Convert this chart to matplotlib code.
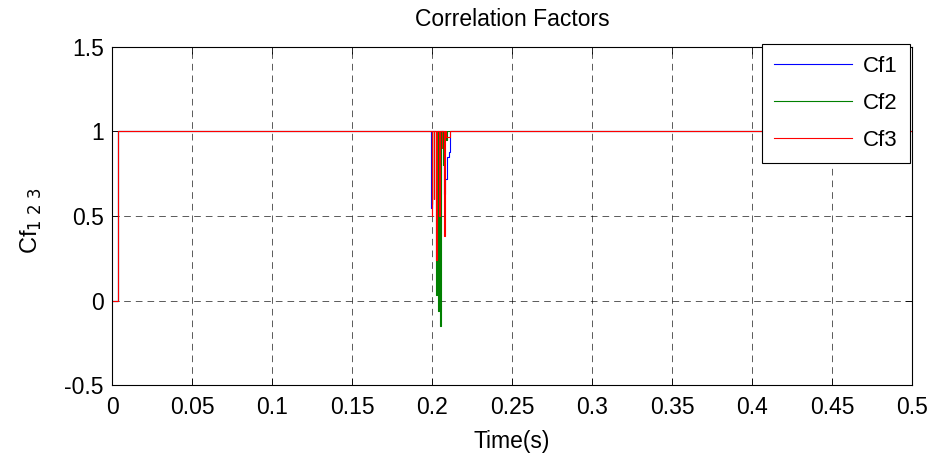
import matplotlib
matplotlib.use('Agg')
import matplotlib.pyplot as plt

plt.rcParams['font.family'] = ['Liberation Sans', 'DejaVu Sans']

# step data (time in s, correlation factor)
cf1_t = [0, 0.0036, 0.1994, 0.1999, 0.2003, 0.2078, 0.2084, 0.2092, 0.2106, 0.2112, 0.5]
cf1_v = [0, 1, 0.55, 0.75, 1, 0.63, 0.72, 0.85, 0.88, 1, 1]

cf2_t = [0, 0.0036, 0.1998, 0.2002, 0.2010, 0.2013, 0.2024, 0.2028, 0.2034, 0.2040,
         0.2043, 0.2052, 0.2055, 0.2068, 0.2072, 0.2090, 0.2094, 0.5]
cf2_v = [0, 1, 0.57, 1, 0.6, 1, 0.25, 0.03, 1, -0.06, 1, -0.15, 1, 0.8, 1, 0.95, 1, 1]

cf3_t = [0, 0.0036, 0.2000, 0.2003, 0.2012, 0.2015, 0.2026, 0.2029, 0.2044, 0.2047,
         0.2062, 0.2065, 0.2076, 0.2079, 0.2090, 0.2110, 0.2114, 0.5]
cf3_v = [0, 1, 0.5, 1, 0.6, 1, 0.24, 1, 0.5, 1, 0.9, 1, 0.38, 1, 0.97, 1, 1, 1]

xticks = [0, 0.05, 0.1, 0.15, 0.2, 0.25, 0.3, 0.35, 0.4, 0.45, 0.5]
xtick_labels = ['0', '0.05', '0.1', '0.15', '0.2', '0.25', '0.3', '0.35', '0.4', '0.45', '0.5']
yticks = [-0.5, 0, 0.5, 1, 1.5]
ytick_labels = ['-0.5', '0', '0.5', '1', '1.5']

fig = plt.figure(figsize=(9.35, 4.57), dpi=100)
ax = fig.add_axes([0.1198, 0.1575, 0.8556, 0.7397])

ax.plot(cf1_t, cf1_v, color='#0000ff', lw=0.8, drawstyle='steps-post', label='Cf1')
ax.plot(cf2_t, cf2_v, color='#008000', lw=0.8, drawstyle='steps-post', label='Cf2')
ax.plot(cf3_t, cf3_v, color='#ff0000', lw=0.8, drawstyle='steps-post', label='Cf3')

ax.set_xlim(0, 0.5)
ax.set_ylim(-0.5, 1.5)
ax.set_xticks(xticks)
ax.set_xticklabels(xtick_labels)
ax.set_yticks(yticks)
ax.set_yticklabels(ytick_labels)
ax.tick_params(direction='in', top=True, right=True, labelsize=16.5, length=5, width=0.6)
ax.tick_params(axis='x', pad=8)
ax.tick_params(axis='y', pad=6)
ax.grid(True, color='black', linestyle=(0, (8, 6)), linewidth=0.6, alpha=0.75)
for s in ax.spines.values():
    s.set_linewidth(0.8)

ax.set_title('Correlation Factors', fontsize=16.5, pad=15)
ax.set_xlabel('Time(s)', fontsize=16.5, labelpad=8)
ax.set_ylabel('Cf$_{1\\ 2\\ 3}$', fontsize=17)
ax.yaxis.set_label_coords(-0.085, 0.485)

leg = ax.legend(loc='upper right', bbox_to_anchor=(0.9975, 1.009), fontsize=16,
                fancybox=False, edgecolor='black', framealpha=1,
                handlelength=3.5, handletextpad=0.5, borderpad=0.55,
                borderaxespad=0, labelspacing=0.71)
leg.get_frame().set_linewidth(0.8)

fig.savefig('out.png', dpi=100)
